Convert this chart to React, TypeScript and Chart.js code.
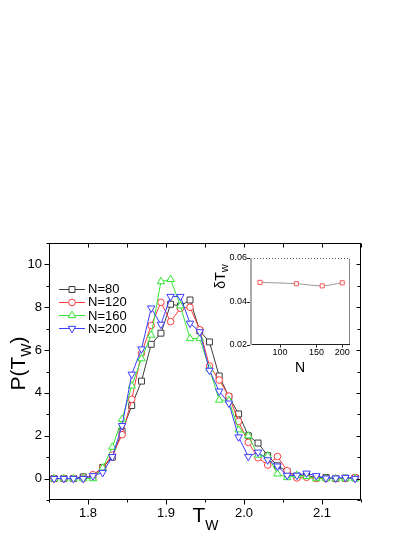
import React, { useEffect, useRef } from "react";
import { Chart, registerables } from "chart.js";

Chart.register(...registerables);

const FONT = "'Liberation Sans', Arial, Helvetica, sans-serif";

// T_w bin centres
const tw = [
  1.7565, 1.769, 1.7814, 1.7939, 1.8063, 1.8188, 1.8312, 1.8437, 1.8561, 1.8686, 1.881, 1.8935, 1.9059, 1.9184, 1.9308, 1.9433,
  1.9557, 1.9682, 1.9806, 1.9931, 2.0055, 2.018, 2.0304, 2.0429, 2.0553, 2.0678, 2.0802, 2.0927, 2.1051, 2.1176, 2.13, 2.1425,
];
const pN80 = [
  0, 0, 0, 0.08, 0.1, 0.52, 1.0, 2.2, 3.41, 4.55, 6.27, 6.79, 8.14, 8.06, 8.34, 6.9,
  6.38, 4.79, 3.82, 3.02, 2.0, 1.66, 1.07, 0.6, 0.33, 0.12, 0.17, 0.03, 0.05, 0.0, 0.02, 0.03,
];
const pN120 = [
  0, 0, 0, 0, 0.18, 0.5, 1.1, 2.05, 3.7, 5.85, 7.15, 8.23, 7.33, 7.95, 8.0, 6.95,
  5.26, 4.6, 3.85, 2.67, 1.69, 0.97, 0.63, 1.03, 0.37, 0.03, 0.06, 0, 0, 0, 0, 0.05,
];
const pN160 = [
  0, 0, 0, 0, 0, 0.5, 1.47, 2.77, 4.33, 5.6, 6.7, 9.2, 9.3, 8.07, 6.54, 6.54,
  5.13, 3.67, 3.65, 2.28, 2.0, 1.1, 1.06, 0.22, 0.05, 0.15, 0.1, 0, 0, 0, 0, 0,
];
const pN200 = [
  0, 0, 0, 0, 0.13, 0.28, 1.02, 2.47, 4.87, 6.05, 7.96, 7.2, 8.5, 8.5, 7.25, 6.85,
  5.05, 4.08, 3.52, 1.94, 1.03, 1.23, 0.87, 0.58, 0.15, 0.15, 0.25, 0.13, 0.02, 0.02, 0.05, 0,
];
const seriesNames = ["N=80", "N=120", "N=160", "N=200"];
const seriesColors = ["#3c3c3c", "#ff3c3c", "#33e633", "#3c3cff"];
const seriesMarkers = ["rect", "circle", "triangle", "triangleDown"];

const xMajor = [1.8, 1.9, 2.0, 2.1];
const xMinor = [1.75, 1.85, 1.95, 2.05, 2.15];
const yMajor = [0, 2, 4, 6, 8, 10];
const yMinor = [-1, 1, 3, 5, 7, 9, 11];

// inset
const insetN = [80, 120, 160, 200];
const insetDelta = [0.0488, 0.0482, 0.0472, 0.0486];
const insetXTicks = [100, 150, 200];
const insetYTicks = [0.02, 0.04, 0.06];

const markerRadius: Record<string, number> = { rect: 4.2, circle: 3.3, triangle: 4.3, triangleDown: 4.3 };

function drawMarker(ctx: CanvasRenderingContext2D, style: string, x: number, y: number, r: number, color: string) {
  ctx.beginPath();
  if (style === "rect") {
    const s = r * Math.SQRT1_2;
    ctx.rect(x - s, y - s, 2 * s, 2 * s);
  } else if (style === "circle") {
    ctx.arc(x, y, r, 0, Math.PI * 2);
  } else {
    let rad = style === "triangleDown" ? Math.PI : 0;
    ctx.moveTo(x + Math.sin(rad) * r, y - Math.cos(rad) * r);
    rad += (2 * Math.PI) / 3;
    ctx.lineTo(x + Math.sin(rad) * r, y - Math.cos(rad) * r);
    rad += (2 * Math.PI) / 3;
    ctx.lineTo(x + Math.sin(rad) * r, y - Math.cos(rad) * r);
    ctx.closePath();
  }
  ctx.fillStyle = "#fff";
  ctx.fill();
  ctx.strokeStyle = color;
  ctx.lineWidth = 1;
  ctx.stroke();
}

function drawSubText(
  ctx: CanvasRenderingContext2D,
  parts: { t: string; size: number; dy: number }[],
  cx: number,
  baseY: number
) {
  let total = 0;
  for (const p of parts) {
    ctx.font = `${p.size}px ${FONT}`;
    total += ctx.measureText(p.t).width;
  }
  let x = cx - total / 2;
  ctx.textAlign = "left";
  ctx.textBaseline = "alphabetic";
  ctx.fillStyle = "#000";
  for (const p of parts) {
    ctx.font = `${p.size}px ${FONT}`;
    ctx.fillText(p.t, x, baseY + p.dy);
    x += ctx.measureText(p.t).width;
  }
}

const mainPlugin = {
  id: "mainDecor",
  afterDraw(chart: any) {
    const { ctx, chartArea: a, scales } = chart;
    const xs = scales.x;
    const ys = scales.y;
    ctx.save();
    ctx.strokeStyle = "#000";
    ctx.lineWidth = 1;
    ctx.strokeRect(Math.round(a.left) + 0.5, Math.round(a.top) + 0.5, Math.round(a.right - a.left) - 1, Math.round(a.bottom - a.top) - 1);
    ctx.beginPath();
    const L = Math.round(a.left) + 0.5;
    const R = Math.round(a.right) - 0.5;
    const T = Math.round(a.top) + 0.5;
    const B = Math.round(a.bottom) - 0.5;
    const xt = (v: number, len: number) => {
      const px = Math.round(xs.getPixelForValue(v)) + 0.5;
      ctx.moveTo(px, B);
      ctx.lineTo(px, B + len);
      ctx.moveTo(px, T);
      ctx.lineTo(px, T + 4);
    };
    xMajor.forEach((v) => xt(v, 5));
    xMinor.forEach((v) => xt(v, 3));
    const yt = (v: number, len: number, inner: number) => {
      const py = Math.round(ys.getPixelForValue(v)) + 0.5;
      ctx.moveTo(L, py);
      ctx.lineTo(L - len, py);
      ctx.moveTo(R, py);
      ctx.lineTo(R - inner, py);
    };
    yMajor.forEach((v) => yt(v, 5, 4));
    yMinor.forEach((v) => yt(v, 3, 3));
    ctx.stroke();

    // legend
    const rowY = [288.5, 301.8, 315.1, 328.4];
    chart.data.datasets.forEach((ds: any, i: number) => {
      const y = rowY[i];
      ctx.beginPath();
      ctx.strokeStyle = seriesColors[i];
      ctx.lineWidth = 1;
      ctx.moveTo(59, Math.round(y) + 0.5);
      ctx.lineTo(85, Math.round(y) + 0.5);
      ctx.stroke();
      drawMarker(ctx, seriesMarkers[i], 72, Math.round(y) + 0.5, markerRadius[seriesMarkers[i]], seriesColors[i]);
      ctx.fillStyle = "#000";
      ctx.font = `13px ${FONT}`;
      ctx.textAlign = "left";
      ctx.textBaseline = "middle";
      ctx.fillText(ds.label, 88, y + 1);
    });

    // x title
    drawSubText(
      ctx,
      [
        { t: "T", size: 21, dy: 0 },
        { t: "W", size: 14, dy: 8 },
      ],
      205.5,
      521.5
    );
    // y title
    ctx.save();
    ctx.translate(25, 363.5);
    ctx.rotate(-Math.PI / 2);
    drawSubText(
      ctx,
      [
        { t: "P(T", size: 21, dy: 0 },
        { t: "W", size: 14, dy: 6 },
        { t: ")", size: 21, dy: 0 },
      ],
      0,
      0
    );
    ctx.restore();
    ctx.restore();
  },
};

const insetPlugin = {
  id: "insetDecor",
  beforeDraw(chart: any) {
    const { ctx, chartArea: a } = chart;
    ctx.save();
    ctx.fillStyle = "#fff";
    ctx.fillRect(a.left, a.top, a.right - a.left, a.bottom - a.top);
    ctx.restore();
  },
  afterDraw(chart: any) {
    const { ctx, chartArea: a, scales } = chart;
    const xs = scales.x;
    const ys = scales.y;
    const L = Math.round(a.left);
    const R = Math.round(a.right) - 0.5;
    const T = Math.round(a.top) + 0.5;
    const B = Math.round(a.bottom) - 0.5;
    ctx.save();
    // right frame
    ctx.strokeStyle = "#888";
    ctx.lineWidth = 1;
    ctx.beginPath();
    ctx.moveTo(R, T);
    ctx.lineTo(R, B);
    ctx.stroke();
    // top dotted
    ctx.strokeStyle = "#555";
    ctx.setLineDash([1, 2]);
    ctx.beginPath();
    ctx.moveTo(L, T);
    ctx.lineTo(R, T);
    ctx.stroke();
    ctx.setLineDash([]);
    // bottom
    ctx.strokeStyle = "#222";
    ctx.beginPath();
    ctx.moveTo(L, B);
    ctx.lineTo(R + 0.5, B);
    insetXTicks.forEach((v) => {
      const px = Math.round(xs.getPixelForValue(v)) + 0.5;
      ctx.moveTo(px, B);
      ctx.lineTo(px, B + 3);
    });
    insetYTicks.forEach((v) => {
      const py = Math.round(ys.getPixelForValue(v)) + 0.5;
      ctx.moveTo(L - 1, py);
      ctx.lineTo(L - 4, py);
    });
    ctx.stroke();
    // left thick gray axis
    ctx.strokeStyle = "#aaa";
    ctx.lineWidth = 2;
    ctx.beginPath();
    ctx.moveTo(L, T - 0.5);
    ctx.lineTo(L, B + 0.5);
    ctx.stroke();

    // titles
    drawSubText(ctx, [{ t: "N", size: 14, dy: 0 }], 300, 371.5);
    ctx.save();
    ctx.translate(225, 276.5);
    ctx.rotate(-Math.PI / 2);
    drawSubText(
      ctx,
      [
        { t: "δT", size: 14, dy: 0 },
        { t: "w", size: 11, dy: 3 },
      ],
      0,
      0
    );
    ctx.restore();
    ctx.restore();
  },
};

export default function App() {
  const mainRef = useRef<HTMLCanvasElement>(null);
  const insetRef = useRef<HTMLCanvasElement>(null);

  useEffect(() => {
    const series = [pN80, pN120, pN160, pN200];
    const main = new Chart(mainRef.current as HTMLCanvasElement, {
      type: "line",
      data: {
        datasets: series.map((vals, i) => ({
          label: seriesNames[i],
          data: tw.map((x, j) => ({ x, y: vals[j] })),
          borderColor: seriesColors[i],
          backgroundColor: "#fff",
          borderWidth: 1,
          pointStyle: seriesMarkers[i] === "triangleDown" ? "triangle" : (seriesMarkers[i] as any),
          pointRotation: seriesMarkers[i] === "triangleDown" ? 180 : 0,
          pointRadius: markerRadius[seriesMarkers[i]],
          pointBorderWidth: 1,
          pointBorderColor: seriesColors[i],
          pointBackgroundColor: "#fff",
          tension: 0,
          fill: false,
          order: 4 - i,
        })),
      },
      options: {
        responsive: false,
        animation: false,
        events: [],
        layout: { padding: { left: 0, top: 243, right: 54, bottom: 0 } },
        plugins: { legend: { display: false }, tooltip: { enabled: false } },
        scales: {
          x: {
            type: "linear",
            min: 1.75,
            max: 2.15,
            grid: { display: false, drawTicks: false },
            border: { display: false },
            afterBuildTicks: (s: any) => {
              s.ticks = xMajor.map((v) => ({ value: v }));
            },
            afterFit: (s: any) => {
              s.height = 37;
              s.paddingLeft = 0;
              s.paddingRight = 0;
            },
            ticks: {
              callback: (v: any) => Number(v).toFixed(1),
              font: { family: FONT, size: 13 },
              color: "#000",
              padding: 6,
              autoSkip: false,
              maxRotation: 0,
            },
          },
          y: {
            type: "linear",
            min: -1,
            max: 11,
            grid: { display: false, drawTicks: false },
            border: { display: false },
            afterBuildTicks: (s: any) => {
              s.ticks = yMajor.map((v) => ({ value: v }));
            },
            afterFit: (s: any) => {
              s.width = 49;
              s.paddingTop = 0;
              s.paddingBottom = 0;
            },
            ticks: {
              callback: (v: any) => String(v),
              font: { family: FONT, size: 13 },
              color: "#000",
              padding: 7,
              autoSkip: false,
            },
          },
        },
      },
      plugins: [mainPlugin],
    } as any);

    const inset = new Chart(insetRef.current as HTMLCanvasElement, {
      type: "line",
      data: {
        datasets: [
          {
            data: insetN.map((x, i) => ({ x, y: insetDelta[i] })),
            borderColor: "#999",
            borderWidth: 1,
            pointStyle: "rect",
            pointRadius: 2.9,
            pointBorderWidth: 1,
            pointBorderColor: "#ff5a5a",
            pointBackgroundColor: "#fff",
            tension: 0.3,
            fill: false,
          },
        ],
      },
      options: {
        responsive: false,
        animation: false,
        events: [],
        layout: { padding: { left: 0, top: 258, right: 65, bottom: 0 } },
        plugins: { legend: { display: false }, tooltip: { enabled: false } },
        scales: {
          x: {
            type: "logarithmic",
            min: 72.4,
            max: 218,
            grid: { display: false, drawTicks: false },
            border: { display: false },
            afterBuildTicks: (s: any) => {
              s.ticks = insetXTicks.map((v) => ({ value: v }));
            },
            afterFit: (s: any) => {
              s.height = 537 - 345;
              s.paddingLeft = 0;
              s.paddingRight = 0;
            },
            ticks: {
              callback: (v: any) => String(v),
              font: { family: FONT, size: 9 },
              color: "#000",
              padding: 2,
              autoSkip: false,
              maxRotation: 0,
            },
          },
          y: {
            type: "linear",
            min: 0.02,
            max: 0.06,
            grid: { display: false, drawTicks: false },
            border: { display: false },
            afterBuildTicks: (s: any) => {
              s.ticks = insetYTicks.map((v) => ({ value: v }));
            },
            afterFit: (s: any) => {
              s.width = 251;
              s.paddingTop = 0;
              s.paddingBottom = 0;
            },
            ticks: {
              callback: (v: any) => Number(v).toFixed(2),
              font: { family: FONT, size: 9 },
              color: "#000",
              padding: 4,
              autoSkip: false,
            },
          },
        },
      },
      plugins: [insetPlugin],
    } as any);

    return () => {
      main.destroy();
      inset.destroy();
    };
  }, []);

  return (
    <div style={{ position: "fixed", left: 0, top: 0, width: 415, height: 537, background: "#fff" }}>
      <canvas ref={mainRef} width={415} height={537} style={{ position: "absolute", left: 0, top: 0 }} />
      <canvas ref={insetRef} width={415} height={537} style={{ position: "absolute", left: 0, top: 0 }} />
    </div>
  );
}
